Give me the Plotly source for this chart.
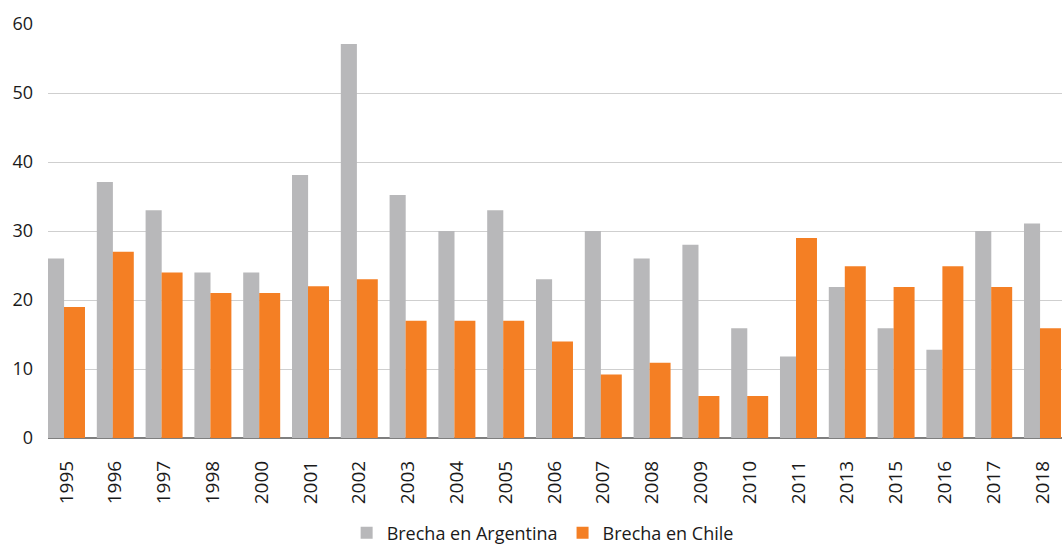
import plotly.graph_objects as go

years = ["1995", "1996", "1997", "1998", "2000", "2001", "2002", "2003", "2004", "2005",
         "2006", "2007", "2008", "2009", "2010", "2011", "2013", "2015", "2016", "2017", "2018"]
argentina = [26, 37.1, 33, 24, 24, 38.1, 57.1, 35.2, 30, 33, 23, 30, 26, 28, 15.9, 11.8,
             21.9, 15.9, 12.8, 30, 31.1]
chile = [19, 27, 24, 21, 21, 22, 23, 17, 17, 17, 14, 9.2, 10.9, 6.1, 6.1, 29, 24.9, 21.9,
         24.9, 21.9, 15.9]

GRAY = "#b8b8ba"
ORANGE = "#f47f24"

fig = go.Figure()
fig.add_trace(go.Bar(
    x=years, y=argentina, name="Brecha en Argentina",
    marker=dict(color=GRAY, line=dict(width=0)),
    width=0.33, offset=-0.379,
))
fig.add_trace(go.Bar(
    x=years, y=chile, name="Brecha en Chile",
    marker=dict(color=ORANGE, line=dict(width=0)),
    width=0.43, offset=-0.051,
))

fig.update_layout(
    width=1064, height=550,
    margin=dict(l=48, r=2, t=24, b=112),
    paper_bgcolor="white", plot_bgcolor="white",
    barmode="overlay",
    font=dict(family="Open Sans", color="#1a1a1a"),
    showlegend=True,
    legend=dict(
        orientation="h", x=0.51, xref="container", xanchor="center",
        y=0.031, yref="container", yanchor="middle",
        font=dict(family="Open Sans", size=18, color="#1a1a1a"),
        itemwidth=30, traceorder="normal",
    ),
    xaxis=dict(
        type="category", range=[-0.379, 20.4], automargin=False,
        tickangle=-90, tickfont=dict(size=19, color="#1a1a1a"),
        showgrid=False, showline=False, ticks="", ticklabelstandoff=18,
    ),
    yaxis=dict(
        range=[0, 60], dtick=10, automargin=False,
        tickfont=dict(size=18, color="#1a1a1a"),
        showgrid=True, gridcolor="#cfcfcf", gridwidth=1,
        zeroline=True, zerolinecolor="#7f7f7f", zerolinewidth=2,
        showline=False, ticks="", ticklabelstandoff=14,
    ),
)

fig.write_html("out.html", config={"displayModeBar": False},
               post_script="document.body.style.margin='0';")
